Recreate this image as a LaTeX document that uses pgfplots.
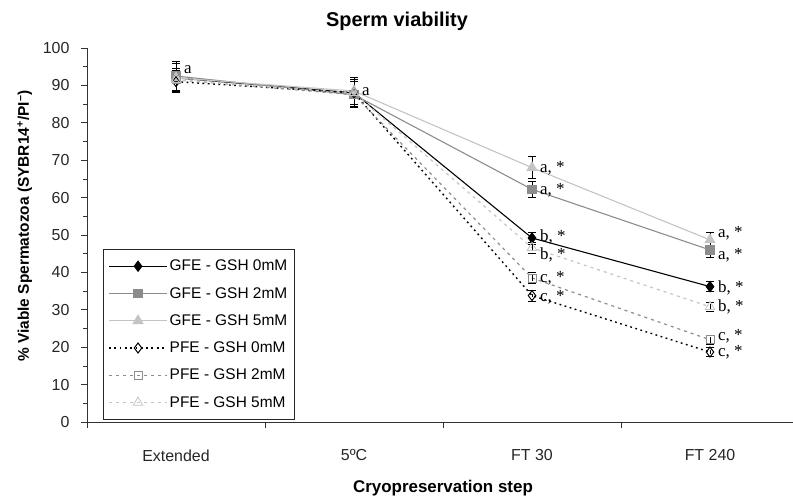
\documentclass[border=0pt]{standalone}
\usepackage{fontspec}
\setmainfont{Liberation Sans}
\newfontfamily\serif{Liberation Serif}
\usepackage{pgfplots}
\pgfplotsset{compat=1.18}
\definecolor{midgray}{HTML}{8C8C8C}
\definecolor{litegray}{HTML}{C4C4C4}

% x y err
\pgfplotstableread{
x y e
0 92.0 3.8
1 88.0 3.5
2 49.2 1.6
3 36.2 1.3
}\gfeA
\pgfplotstableread{
x y e
0 92.5 3.8
1 87.5 3.5
2 62.2 2.2
3 46.0 2.0
}\gfeB
\pgfplotstableread{
x y e
0 92.0 3.8
1 88.5 3.5
2 68.0 2.9
3 48.7 2.0
}\gfeC
\pgfplotstableread{
x y e
0 91.0 3.0
1 88.0 3.5
2 33.8 1.5
3 18.7 1.2
}\pfeA
\pgfplotstableread{
x y e
0 91.5 3.0
1 87.5 3.5
2 38.5 1.5
3 22.0 1.2
}\pfeB
\pgfplotstableread{
x y e
0 91.5 3.0
1 88.0 3.5
2 46.6 1.5
3 30.8 1.2
}\pfeC

\begin{document}
\begin{tikzpicture}
\begin{axis}[
  scale only axis, width=712bp, height=374bp,
  xmin=-0.5, xmax=3.5, ymin=0, ymax=100,
  axis lines*=left, axis line style={-, black!80, line width=0.7pt},
  xtick={-0.5,0.5,1.5,2.5,3.5}, x tick label as interval,
  xticklabels={Extended,5ºC,FT 30,FT 240},
  ytick={0,10,...,100}, minor y tick num=1,
  tick align=outside, major tick length=6bp, minor tick length=4bp,
  tick style={black!80, line width=0.7pt},
  ticklabel style={font=\fontsize{16}{18}\selectfont, text=black!85},
  xticklabel style={yshift=-18bp},
  yticklabel style={xshift=-8bp},
  /pgf/number format/assume math mode=true,
  title={\textbf{Sperm viability}},
  title style={font=\fontsize{20}{22}\selectfont, yshift=8bp, xshift=-46bp},
  xlabel={\textbf{Cryopreservation step}},
  xlabel style={font=\fontsize{17}{19}\selectfont, yshift=-12bp},
  ylabel={\textbf{\% Viable Spermatozoa (SYBR14\textsuperscript{+}/PI\textsuperscript{--})}},
  ylabel style={font=\fontsize{15.5}{17}\selectfont, xshift=9bp},
  ylabel shift=4bp,
  legend style={at={(16/712,2/374)}, anchor=south west, draw=black!85, line width=0.7pt,
    font=\fontsize{15.5}{17}\selectfont, row sep=11bp, inner xsep=5bp, inner ysep=9bp,
    cells={anchor=west}},
  legend image code/.code={\draw[mark repeat=2,mark phase=2] plot coordinates {(0bp,0bp)(29bp,0bp)(58bp,0bp)};},
  error bars/y dir=both, error bars/y explicit,
  error bars/error bar style={black, line width=0.9pt},
  error bars/error mark options={rotate=90, mark size=4bp, black, line width=0.9pt},
  clip=false,
]
\coordinate (SW) at (rel axis cs:0,0);
\addplot[black, line width=1.1pt, mark=diamond*, mark size=5bp, mark options={solid, fill=black}]
  table[x=x, y=y, y error=e] {\gfeA};
\addlegendentry{GFE - GSH 0mM}
\addplot[midgray, line width=1.1pt, mark=square*, mark size=4bp, mark options={solid, fill=midgray}]
  table[x=x, y=y, y error=e] {\gfeB};
\addlegendentry{GFE - GSH 2mM}
\addplot[litegray, line width=1.1pt, mark=triangle*, mark size=5.5bp, mark options={solid, fill=litegray}]
  table[x=x, y=y, y error=e] {\gfeC};
\addlegendentry{GFE - GSH 5mM}
\addplot[black, line width=1.4pt, dash pattern=on 1.8bp off 3.5bp, mark=diamond, mark size=5bp, mark options={solid, fill=white, line width=1pt}]
  table[x=x, y=y, y error=e] {\pfeA};
\addlegendentry{PFE - GSH 0mM}
\addplot[midgray, line width=1.2pt, dash pattern=on 3bp off 4bp, mark=square, mark size=4bp, mark options={solid, fill=white, line width=0.8pt}]
  table[x=x, y=y, y error=e] {\pfeB};
\addlegendentry{PFE - GSH 2mM}
\addplot[litegray, line width=1.2pt, dash pattern=on 3bp off 4bp, mark=triangle, mark size=5.5bp, mark options={solid, fill=white, line width=0.8pt}]
  table[x=x, y=y, y error=e] {\pfeC};
\addlegendentry{PFE - GSH 5mM}

\begin{scope}[every node/.style={anchor=west, font=\serif\fontsize{17}{19}\selectfont, inner sep=0pt}]
\node at (axis cs:0.045,94.2) {a};
\node at (axis cs:1.045,88.3) {a};
\node at (axis cs:2.045,67.9) {a, *};
\node at (axis cs:2.045,62.0) {a, *};
\node at (axis cs:2.045,49.5) {b, *};
\node at (axis cs:2.045,44.7) {b, *};
\node at (axis cs:2.045,38.5) {c, *};
\node at (axis cs:2.045,33.4) {c, *};
\node at (axis cs:3.045,50.5) {a, *};
\node at (axis cs:3.045,44.7) {a, *};
\node at (axis cs:3.045,35.8) {b, *};
\node at (axis cs:3.045,30.7) {b, *};
\node at (axis cs:3.045,23.0) {c, *};
\node at (axis cs:3.045,18.7) {c, *};
\end{scope}
\end{axis}
\pgfresetboundingbox
\path[use as bounding box] ([xshift=-87bp,yshift=-76bp]SW) rectangle ([xshift=706bp,yshift=422bp]SW);
\end{tikzpicture}
\end{document}
